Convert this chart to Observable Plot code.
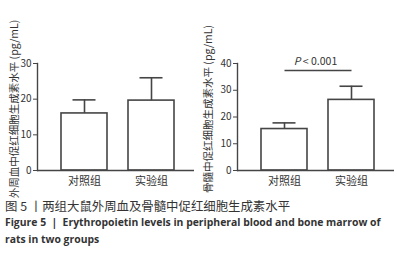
<!DOCTYPE html>
<html><head><meta charset="utf-8">
<script src="https://cdn.jsdelivr.net/npm/d3@7"></script>
<script src="https://cdn.jsdelivr.net/npm/@observablehq/plot@0.6"></script>
<style>
body{margin:0;background:#fff;font-family:"Noto Sans","Noto Sans CJK SC",sans-serif;}
#row{display:flex;}
#cap{padding-left:5px;color:#333;}
#cap .l1{font-family:"Noto Sans CJK SC",sans-serif;font-size:12.4px;height:16px;line-height:16px;white-space:nowrap;}
#cap .l2{font-family:"Open Sans","Noto Sans",sans-serif;font-weight:bold;font-size:10.4px;height:17px;line-height:17px;white-space:nowrap;}
</style></head><body>
<div id="row"></div>
<div id="cap">
<div class="l1">图 5 丨两组大鼠外周血及骨髓中促红细胞生成素水平</div>
<div class="l2">Figure 5 &nbsp;| &nbsp;Erythropoietin levels in peripheral blood and bone marrow of</div>
<div class="l2">rats in two groups</div>
</div>
<script>
const categories = ["对照组", "实验组"];
const bloodMean = [16.0, 19.6];
const bloodSD = [3.8, 6.4];
const marrowMean = [15.5, 26.4];
const marrowSD = [2.3, 5.1];
const bloodTicks = [0, 10, 20, 30];
const marrowTicks = [0, 10, 20, 30, 40];
const bloodTitle = "外周血中促红细胞生成素水平 (pg/mL)";
const marrowTitle = "骨髓中促红细胞生成素水平 (pg/mL)";
const pText = "P < 0.001";
const pLevel = 37.4;

const ink = "#454545";
const txt = "#333";

function chart({means, sds, ticks, title, width, marginLeft, marginRight, titleDx, sig}) {
  const data = categories.map((c, i) => ({c, m: means[i], top: means[i] + sds[i]}));
  const marks = [
    Plot.barY(data, {x: "c", y: "m", fill: "white", stroke: ink, strokeWidth: 1.6}),
    Plot.ruleX(data, {x: "c", y1: "m", y2: "top", stroke: ink, strokeWidth: 1.6}),
    Plot.tickY(data, {x: "c", y: "top", stroke: ink, strokeWidth: 1.6, insetLeft: 11.5, insetRight: 11.5}),
    Plot.ruleY([0], {stroke: ink, strokeWidth: 1.4}),
    Plot.frame({anchor: "left", stroke: ink, strokeWidth: 1.4}),
    Plot.axisY({ticks, tickSize: 4, tickPadding: 2, label: null, fontSize: 10, color: txt, stroke: ink}),
    Plot.axisX({tickSize: 0, tickPadding: 7, label: null, fontSize: 11, color: txt}),
    Plot.text([title], {frameAnchor: "left", textAnchor: "middle", rotate: -90, dx: titleDx, dy: -8, fontSize: 10.5, fill: txt})
  ];
  if (sig) {
    marks.push(Plot.link([sig], {x1: () => categories[0], x2: () => categories[1], y1: () => pLevel, y2: () => pLevel, stroke: ink, strokeWidth: 1.4}));
    marks.push(Plot.text([sig], {x: () => categories[0], y: () => pLevel, dx: 31, dy: -9, fontSize: 10.5, fill: txt, className: "ptext"}));
  }
  return Plot.plot({
    width, height: 198,
    marginLeft, marginRight, marginTop: 63, marginBottom: 28,
    x: {domain: categories, paddingInner: 0.32, paddingOuter: 0.32, align: 0.55},
    y: {domain: [0, ticks[ticks.length - 1]]},
    style: {fontFamily: "'Noto Sans CJK SC','Noto Sans',sans-serif", color: txt, background: "white"},
    marks
  });
}

const row = document.getElementById("row");
row.appendChild(chart({means: bloodMean, sds: bloodSD, ticks: bloodTicks, title: bloodTitle, width: 198, marginLeft: 37, marginRight: 4, titleDx: -23}));
const right = chart({means: marrowMean, sds: marrowSD, ticks: marrowTicks, title: marrowTitle, width: 199, marginLeft: 39, marginRight: 3, titleDx: -29, sig: pText});
row.appendChild(right);
// italic P
d3.select(right).selectAll(".ptext text").each(function() {
  const t = d3.select(this);
  const s = t.text();
  t.text("");
  t.append("tspan").attr("font-style", "italic").text(s.slice(0, 1));
  t.append("tspan").text(s.slice(1));
});
</script>
</body></html>
